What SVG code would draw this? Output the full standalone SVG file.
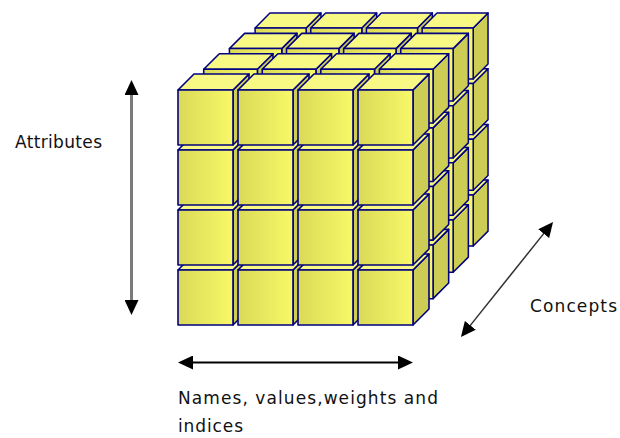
<svg xmlns="http://www.w3.org/2000/svg" xmlns:xlink="http://www.w3.org/1999/xlink" width="620" height="438" viewBox="0 0 620 438">
<style>
  .ft { fill: url(#frontGrad); }
  .tp { fill: #F8F884; }
  .rt { fill: #CDCD55; }
  .cube path, .cube rect { stroke: #000080; stroke-width: 1.6; stroke-linejoin: round; }
  .lbl { font-family: "DejaVu Sans", "Liberation Sans", Arial, sans-serif; font-size: 17px; fill: #111111; }
  .arr { fill: none; }
</style>
<defs>
  <linearGradient id="frontGrad" x1="0" y1="0" x2="1" y2="0">
    <stop offset="0" stop-color="#DADA58"/>
    <stop offset="1" stop-color="#F8F868"/>
  </linearGradient>
  <g id="cube" class="cube">
    <path class="rt" d="M55,0 L71,-16 L71,39 L55,55 Z"/>
    <path class="tp" d="M0,0 L16,-16 L71,-16 L55,0 Z"/>
    <rect class="ft" x="0" y="0" width="55" height="55"/>
  </g>
  <marker id="head" markerUnits="userSpaceOnUse" markerWidth="16" markerHeight="14" refX="1" refY="7" orient="auto-start-reverse" viewBox="0 0 16 14">
    <path d="M0,0 L15,7 L0,14 Z" fill="#000000"/>
  </marker>
</defs>
<rect x="0" y="0" width="620" height="438" fill="#FFFFFF"/>

<g id="cube-block">
  <g id="layer-4">
    <use xlink:href="#cube" transform="translate(255.1,194.94) scale(0.928)"/>
    <use xlink:href="#cube" transform="translate(310.78,194.94) scale(0.928)"/>
    <use xlink:href="#cube" transform="translate(366.46,194.94) scale(0.928)"/>
    <use xlink:href="#cube" transform="translate(422.14,194.94) scale(0.928)"/>
    <use xlink:href="#cube" transform="translate(255.1,139.26) scale(0.928)"/>
    <use xlink:href="#cube" transform="translate(310.78,139.26) scale(0.928)"/>
    <use xlink:href="#cube" transform="translate(366.46,139.26) scale(0.928)"/>
    <use xlink:href="#cube" transform="translate(422.14,139.26) scale(0.928)"/>
    <use xlink:href="#cube" transform="translate(255.1,83.58) scale(0.928)"/>
    <use xlink:href="#cube" transform="translate(310.78,83.58) scale(0.928)"/>
    <use xlink:href="#cube" transform="translate(366.46,83.58) scale(0.928)"/>
    <use xlink:href="#cube" transform="translate(422.14,83.58) scale(0.928)"/>
    <use xlink:href="#cube" transform="translate(255.1,27.9) scale(0.928)"/>
    <use xlink:href="#cube" transform="translate(310.78,27.9) scale(0.928)"/>
    <use xlink:href="#cube" transform="translate(366.46,27.9) scale(0.928)"/>
    <use xlink:href="#cube" transform="translate(422.14,27.9) scale(0.928)"/>
  </g>
  <g id="layer-3">
    <use xlink:href="#cube" transform="translate(229.4,219.96) scale(0.952)"/>
    <use xlink:href="#cube" transform="translate(286.52,219.96) scale(0.952)"/>
    <use xlink:href="#cube" transform="translate(343.64,219.96) scale(0.952)"/>
    <use xlink:href="#cube" transform="translate(400.76,219.96) scale(0.952)"/>
    <use xlink:href="#cube" transform="translate(229.4,162.84) scale(0.952)"/>
    <use xlink:href="#cube" transform="translate(286.52,162.84) scale(0.952)"/>
    <use xlink:href="#cube" transform="translate(343.64,162.84) scale(0.952)"/>
    <use xlink:href="#cube" transform="translate(400.76,162.84) scale(0.952)"/>
    <use xlink:href="#cube" transform="translate(229.4,105.72) scale(0.952)"/>
    <use xlink:href="#cube" transform="translate(286.52,105.72) scale(0.952)"/>
    <use xlink:href="#cube" transform="translate(343.64,105.72) scale(0.952)"/>
    <use xlink:href="#cube" transform="translate(400.76,105.72) scale(0.952)"/>
    <use xlink:href="#cube" transform="translate(229.4,48.6) scale(0.952)"/>
    <use xlink:href="#cube" transform="translate(286.52,48.6) scale(0.952)"/>
    <use xlink:href="#cube" transform="translate(343.64,48.6) scale(0.952)"/>
    <use xlink:href="#cube" transform="translate(400.76,48.6) scale(0.952)"/>
  </g>
  <g id="layer-2">
    <use xlink:href="#cube" transform="translate(203.7,244.98) scale(0.976)"/>
    <use xlink:href="#cube" transform="translate(262.26,244.98) scale(0.976)"/>
    <use xlink:href="#cube" transform="translate(320.82,244.98) scale(0.976)"/>
    <use xlink:href="#cube" transform="translate(379.38,244.98) scale(0.976)"/>
    <use xlink:href="#cube" transform="translate(203.7,186.42) scale(0.976)"/>
    <use xlink:href="#cube" transform="translate(262.26,186.42) scale(0.976)"/>
    <use xlink:href="#cube" transform="translate(320.82,186.42) scale(0.976)"/>
    <use xlink:href="#cube" transform="translate(379.38,186.42) scale(0.976)"/>
    <use xlink:href="#cube" transform="translate(203.7,127.86) scale(0.976)"/>
    <use xlink:href="#cube" transform="translate(262.26,127.86) scale(0.976)"/>
    <use xlink:href="#cube" transform="translate(320.82,127.86) scale(0.976)"/>
    <use xlink:href="#cube" transform="translate(379.38,127.86) scale(0.976)"/>
    <use xlink:href="#cube" transform="translate(203.7,69.3) scale(0.976)"/>
    <use xlink:href="#cube" transform="translate(262.26,69.3) scale(0.976)"/>
    <use xlink:href="#cube" transform="translate(320.82,69.3) scale(0.976)"/>
    <use xlink:href="#cube" transform="translate(379.38,69.3) scale(0.976)"/>
  </g>
  <g id="layer-1">
    <use xlink:href="#cube" transform="translate(178,270)"/>
    <use xlink:href="#cube" transform="translate(238,270)"/>
    <use xlink:href="#cube" transform="translate(298,270)"/>
    <use xlink:href="#cube" transform="translate(358,270)"/>
    <use xlink:href="#cube" transform="translate(178,210)"/>
    <use xlink:href="#cube" transform="translate(238,210)"/>
    <use xlink:href="#cube" transform="translate(298,210)"/>
    <use xlink:href="#cube" transform="translate(358,210)"/>
    <use xlink:href="#cube" transform="translate(178,150)"/>
    <use xlink:href="#cube" transform="translate(238,150)"/>
    <use xlink:href="#cube" transform="translate(298,150)"/>
    <use xlink:href="#cube" transform="translate(358,150)"/>
    <use xlink:href="#cube" transform="translate(178,90)"/>
    <use xlink:href="#cube" transform="translate(238,90)"/>
    <use xlink:href="#cube" transform="translate(298,90)"/>
    <use xlink:href="#cube" transform="translate(358,90)"/>
  </g>
</g>

<g id="connectors">
  <line id="arrow-attributes" class="arr" x1="131.5" y1="94" x2="131.5" y2="301" stroke="#7A7A7A" stroke-width="3" marker-start="url(#head)" marker-end="url(#head)"/>
  <line id="arrow-names" class="arr" x1="192" y1="362.5" x2="399" y2="362.5" stroke="#000000" stroke-width="2" marker-start="url(#head)" marker-end="url(#head)"/>
  <line id="arrow-concepts" class="arr" x1="544.3" y1="232.9" x2="469.7" y2="326.1" stroke="#333333" stroke-width="1.5" marker-start="url(#head)" marker-end="url(#head)"/>
</g>

<g id="labels">
  <g id="label-attributes"><text class="lbl" x="15" y="148" textLength="87" lengthAdjust="spacing">Attributes</text></g>
  <g id="label-concepts"><text class="lbl" x="530" y="312" textLength="87" lengthAdjust="spacing">Concepts</text></g>
  <g id="label-names">
    <text class="lbl" x="178" y="404" textLength="260" lengthAdjust="spacing">Names, values,weights and</text>
    <text class="lbl" x="178" y="432" textLength="65" lengthAdjust="spacing">indices</text>
  </g>
</g>
</svg>
